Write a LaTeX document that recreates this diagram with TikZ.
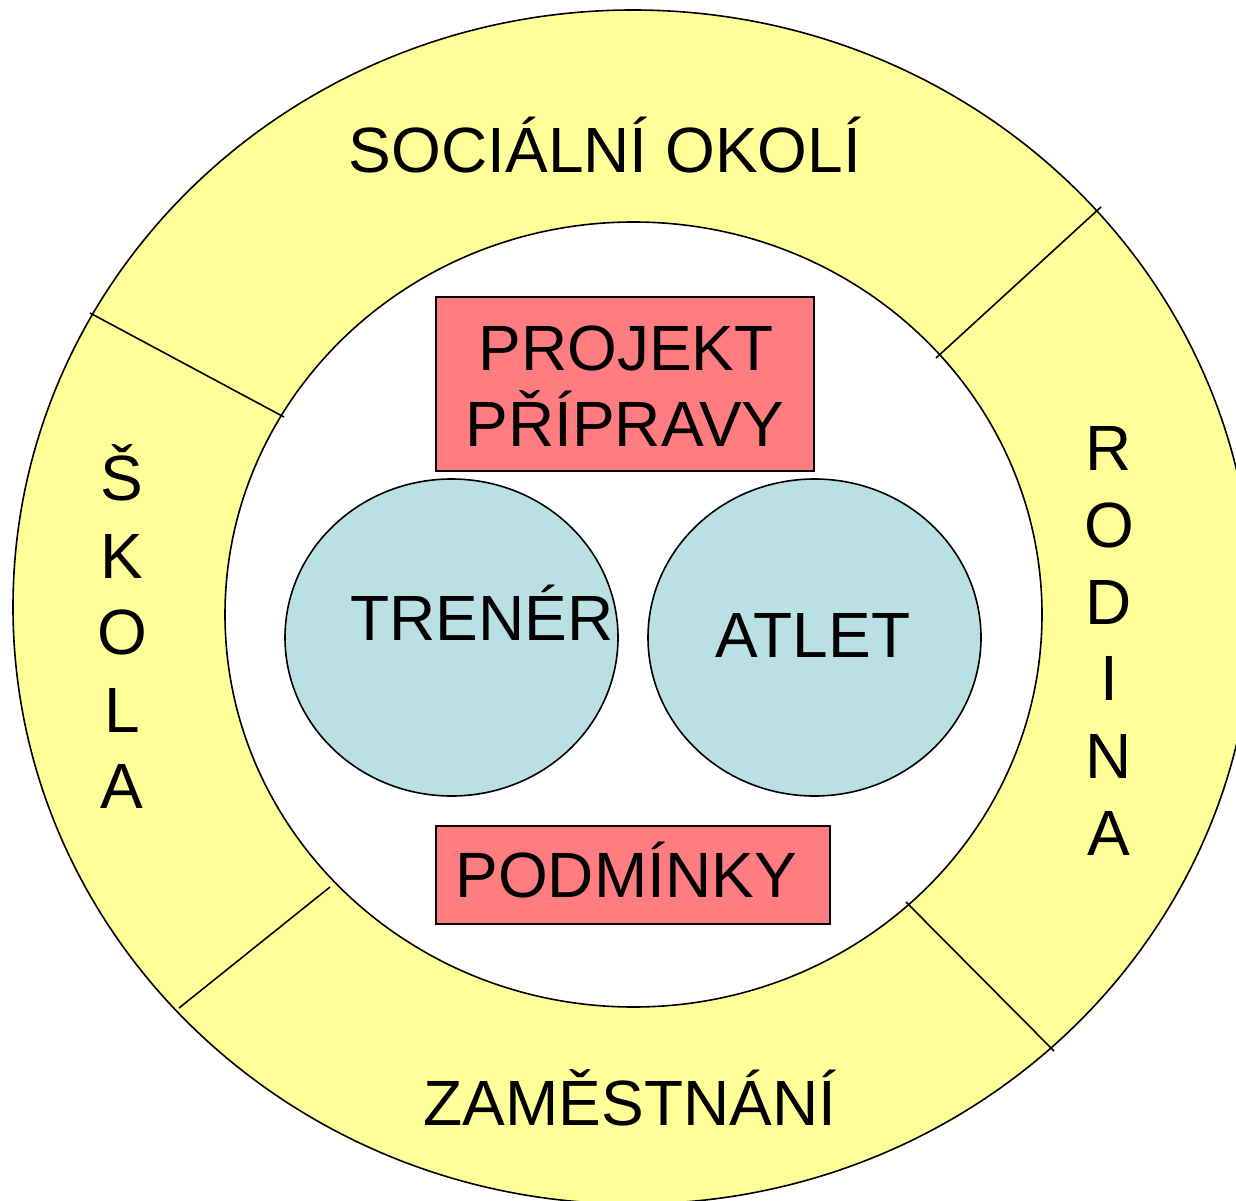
\documentclass[tikz,border=0pt]{standalone}
\usepackage{fontspec}
\setmainfont{Liberation Sans}
\usetikzlibrary{shapes.geometric}
\definecolor{ringyellow}{HTML}{FFFF99}
\definecolor{boxred}{HTML}{FF7C80}
\definecolor{discblue}{HTML}{BBE0E3}
\tikzset{
  outline/.style={draw=black, line width=1.6pt},
  lbl/.style={inner sep=0pt, anchor=base, font=\fontsize{64}{76}\selectfont},
  redbox/.style={outline, fill=boxred, rectangle, inner sep=0pt},
  disc/.style={outline, fill=discblue, ellipse, inner sep=0pt, minimum width=333pt, minimum height=317pt},
  divider/.style={draw=black, line width=1.6pt}
}
\begin{document}
\begin{tikzpicture}[x=1pt, y=-1pt]
\useasboundingbox (0,0) rectangle (1236,1201);
\clip (0,0) rectangle (1236,1201);
% rings
\node[outline, fill=ringyellow, ellipse, inner sep=0pt, minimum width=1240pt, minimum height=1194pt] (outer) at (633,607) {};
\node[outline, fill=white, ellipse, inner sep=0pt, minimum width=817pt, minimum height=785pt] (inner) at (633.5,614.5) {};
% dividers
\coordinate (d1a) at (90,313);   \coordinate (d1b) at (284,417);
\coordinate (d2a) at (1101,207); \coordinate (d2b) at (936,358);
\coordinate (d3a) at (906,902);  \coordinate (d3b) at (1054,1051);
\coordinate (d4a) at (330,887);  \coordinate (d4b) at (179,1008);
\draw[divider] (d1a) -- (d1b);
\draw[divider] (d2a) -- (d2b);
\draw[divider] (d3a) -- (d3b);
\draw[divider] (d4a) -- (d4b);
% boxes
\node[redbox, minimum width=378pt, minimum height=174pt] (proj) at (625,384) {};
\node[redbox, minimum width=394pt, minimum height=98pt] (podm) at (633,875) {};
% discs
\node[disc] (trener) at (451.5,637.5) {};
\node[disc] (atlet) at (814.5,637.5) {};
% texts
\node[lbl] (t-soc) at (605,173) {SOCIÁLNÍ OKOLÍ};
\node[lbl] (t-proj1) at (626,370) {PROJEKT};
\node[lbl] (t-proj2) at (625,446) {PŘÍPRAVY};
\node[lbl] (t-tren) at (482,640) {TRENÉR};
\node[lbl] (t-atl) at (813,657) {ATLET};
\node[lbl] (t-podm) at (626,897) {PODMÍNKY};
\node[lbl] (t-zam) at (630,1125) {ZAMĚSTNÁNÍ};
% vertical words
\node[lbl] (s1) at (122,500) {Š};
\node[lbl] (s2) at (122,578) {K};
\node[lbl] (s3) at (122,654) {O};
\node[lbl] (s4) at (122,732) {L};
\node[lbl] (s5) at (122,808) {A};
\node[lbl] (r1) at (1109,470) {R};
\node[lbl] (r2) at (1109,547) {O};
\node[lbl] (r3) at (1109,624) {D};
\node[lbl] (r4) at (1109,700) {I};
\node[lbl] (r5) at (1109,778) {N};
\node[lbl] (r6) at (1109,855) {A};
\end{tikzpicture}
\end{document}
